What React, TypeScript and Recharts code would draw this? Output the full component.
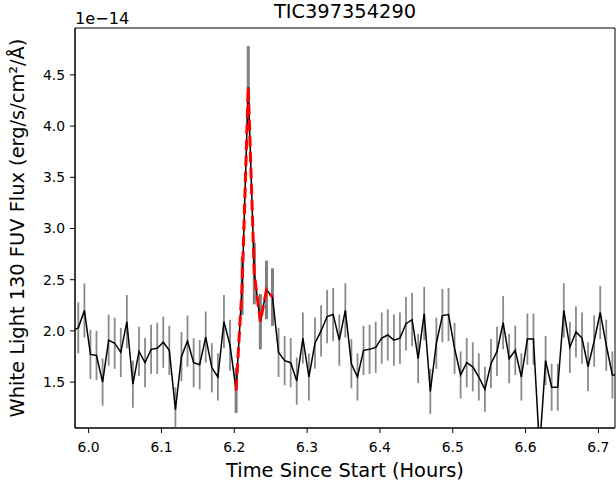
import {
  ComposedChart,
  Line,
  XAxis,
  YAxis,
  ErrorBar,
  ReferenceArea,
} from "recharts";

// time since start, hours (30 s cadence)
const TIME = [
  5.9775, 5.9858, 5.9942, 6.0025, 6.0108, 6.0192, 6.0275, 6.0358, 6.0442, 6.0525,
  6.0608, 6.0692, 6.0775, 6.0858, 6.0942, 6.1025, 6.1108, 6.1192, 6.1275, 6.1358,
  6.1442, 6.1525, 6.1608, 6.1692, 6.1775, 6.1858, 6.1942, 6.2025, 6.2108, 6.2192,
  6.2275, 6.2358, 6.2442, 6.2525, 6.2608, 6.2692, 6.2775, 6.2858, 6.2942, 6.3025,
  6.3108, 6.3192, 6.3275, 6.3358, 6.3442, 6.3525, 6.3608, 6.3692, 6.3775, 6.3858,
  6.3942, 6.4025, 6.4108, 6.4192, 6.4275, 6.4358, 6.4442, 6.4525, 6.4608, 6.4692,
  6.4775, 6.4858, 6.4942, 6.5025, 6.5108, 6.5192, 6.5275, 6.5358, 6.5442, 6.5525,
  6.5608, 6.5692, 6.5775, 6.5858, 6.5942, 6.6025, 6.6108, 6.6192, 6.6275, 6.6358,
  6.6442, 6.6525, 6.6608, 6.6692, 6.6775, 6.6858, 6.6942, 6.7025, 6.7108, 6.7192,
  6.7275,
];

// flux in units of 1e-14 erg/s/cm2/A
const FLUX = [
  2.0, 2.03, 2.2, 1.77, 1.76, 1.5, 1.91, 1.88, 1.79, 2.09,
  1.48, 1.8, 1.69, 1.82, 1.83, 1.89, 1.81, 1.23, 1.75, 1.9,
  1.69, 1.67, 1.94, 1.64, 1.55, 2.09, 1.86, 1.42, 2.44, 4.38,
  2.56, 2.09, 2.4, 2.33, 1.79, 1.71, 1.69, 1.51, 1.93, 1.55,
  1.88, 2.0, 2.14, 2.16, 1.91, 2.2, 1.68, 1.55, 1.81, 1.82,
  1.84, 1.93, 1.96, 1.91, 1.93, 2.07, 2.11, 1.73, 2.17, 1.41,
  1.88, 2.15, 2.16, 1.83, 1.57, 1.69, 1.65, 1.55, 1.43, 1.68,
  1.8, 2.08, 1.73, 1.81, 1.55, 1.92, 1.92, 0.85, 1.71, 1.45,
  1.45, 2.2, 1.84, 1.99, 1.93, 1.65, 1.9, 2.18, 1.86, 1.57,
  1.57,
];

const ERR = [
  0.25, 0.25, 0.265, 0.24, 0.24, 0.23, 0.25, 0.25, 0.24, 0.26,
  0.23, 0.24, 0.24, 0.24, 0.25, 0.25, 0.24, 0.22, 0.24, 0.25,
  0.24, 0.24, 0.25, 0.24, 0.23, 0.26, 0.25, 0.22, 0.285, 0.4,
  0.3, 0.27, 0.285, 0.28, 0.24, 0.24, 0.24, 0.23, 0.25, 0.23,
  0.25, 0.25, 0.26, 0.26, 0.25, 0.265, 0.24, 0.23, 0.24, 0.24,
  0.25, 0.25, 0.25, 0.25, 0.25, 0.26, 0.26, 0.24, 0.26, 0.22,
  0.25, 0.26, 0.26, 0.25, 0.23, 0.24, 0.24, 0.23, 0.22, 0.24,
  0.24, 0.26, 0.24, 0.24, 0.23, 0.25, 0.25, 0.2, 0.24, 0.23,
  0.23, 0.265, 0.25, 0.25, 0.25, 0.24, 0.25, 0.26, 0.25, 0.23,
  0.23,
];

// indices of the flagged flare points
const FLARE_FIRST = 27;
const FLARE_LAST = 33;

const X_TICKS = [6.0, 6.1, 6.2, 6.3, 6.4, 6.5, 6.6, 6.7];
const Y_TICKS = [1.5, 2.0, 2.5, 3.0, 3.5, 4.0, 4.5];
const X_DOMAIN = [5.9813, 6.7228];
const Y_DOMAIN = [1.052, 4.958];

const FONT = "DejaVu Sans, sans-serif";

// error bars are not clipped by recharts, so cut them at the axes limits
const clipErr = (v: number, e: number) => {
  if (v < Y_DOMAIN[0] || v > Y_DOMAIN[1]) return null;
  return [Math.min(e, v - Y_DOMAIN[0]), Math.min(e, Y_DOMAIN[1] - v)];
};

const data = TIME.map((t, i) => {
  const inFlare = i >= FLARE_FIRST && i <= FLARE_LAST;
  const show = t >= X_DOMAIN[0] && t <= X_DOMAIN[1];
  return {
    t,
    flux: FLUX[i],
    err: show ? clipErr(FLUX[i], ERR[i]) : null,
    flare: inFlare ? FLUX[i] : null,
    errF: inFlare ? clipErr(FLUX[i], ERR[i]) : null,
  };
});

export default function App() {
  return (
    <div style={{ position: "absolute", left: 0, top: 0, width: 616, height: 485, background: "#fff" }}>
      <ComposedChart
        width={616}
        height={485}
        data={data}
        margin={{ top: 28, right: 1, left: 0, bottom: 0 }}
      >
        <XAxis
          dataKey="t"
          type="number"
          domain={X_DOMAIN}
          allowDataOverflow
          ticks={X_TICKS}
          tickFormatter={(v: number) => v.toFixed(1)}
          height={57}
          tickSize={5}
          tickMargin={9}
          stroke="#000"
          tick={{ fill: "#000", fontSize: 13.9, fontFamily: FONT }}
          label={{
            value: "Time Since Start (Hours)",
            position: "insideBottom",
            offset: 8,
            style: { fill: "#000", fontSize: 19.4, fontFamily: FONT },
          }}
        />
        <YAxis
          type="number"
          domain={Y_DOMAIN}
          allowDataOverflow
          ticks={Y_TICKS}
          tickFormatter={(v: number) => v.toFixed(1)}
          width={75}
          tickSize={5}
          tickMargin={5}
          stroke="#000"
          tick={{ fill: "#000", fontSize: 13.9, fontFamily: FONT }}
          label={{
            value: "White Light 130 FUV Flux (erg/s/cm²/Å)",
            angle: -90,
            position: "insideLeft",
            offset: 17,
            style: { fill: "#000", fontSize: 19.4, fontFamily: FONT, textAnchor: "middle" },
          }}
        />
        <ReferenceArea
          x1={X_DOMAIN[0]}
          x2={X_DOMAIN[1]}
          y1={Y_DOMAIN[0]}
          y2={Y_DOMAIN[1]}
          fill="none"
          stroke="#000"
          strokeWidth={1}
          ifOverflow="visible"
        />
        {/* error bars go under the light curve */}
        <Line dataKey="flux" stroke="none" dot={false} activeDot={false} isAnimationActive={false}>
          <ErrorBar dataKey="err" width={0} stroke="#8a8a8a" strokeWidth={1.8} isAnimationActive={false} />
        </Line>
        <Line dataKey="flare" stroke="none" dot={false} activeDot={false} isAnimationActive={false}>
          <ErrorBar dataKey="errF" width={0} stroke="#808080" strokeWidth={3} isAnimationActive={false} />
        </Line>
        <Line
          dataKey="flux"
          stroke="#000"
          strokeWidth={1.5}
          dot={false}
          activeDot={false}
          isAnimationActive={false}
        />
        <Line
          dataKey="flare"
          stroke="#ff0000"
          strokeWidth={3}
          strokeDasharray="11 5"
          dot={false}
          activeDot={false}
          isAnimationActive={false}
        />
      </ComposedChart>
      <svg
        width={616}
        height={485}
        style={{ position: "absolute", left: 0, top: 0, pointerEvents: "none" }}
      >
        <text x={345} y={18.3} textAnchor="middle" fontSize={19.4} fontFamily={FONT} fill="#000">
          TIC397354290
        </text>
        <text x={75} y={24} fontSize={16.2} fontFamily={FONT} fill="#000">
          1e−14
        </text>
      </svg>
    </div>
  );
}
